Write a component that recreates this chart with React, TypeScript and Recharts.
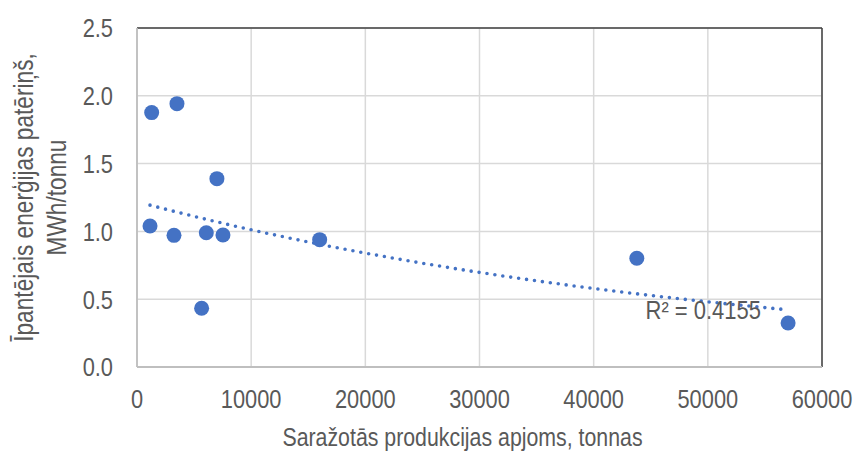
import React from 'react';
import {
  ScatterChart,
  Scatter,
  XAxis,
  YAxis,
  CartesianGrid,
  ReferenceLine,
  ReferenceDot,
} from 'recharts';

// Saražotās produkcijas apjoms (tonnas) un īpatnējais enerģijas patēriņš (MWh/tonnu)
const production = [1285, 3500, 7000, 1140, 3240, 6070, 7530, 5660, 16000, 43780, 57030];
const consumption = [1.876, 1.942, 1.389, 1.04, 0.971, 0.99, 0.973, 0.433, 0.939, 0.802, 0.324];

const xTicks = [0, 10000, 20000, 30000, 40000, 50000, 60000];
const yTicks = [0, 0.5, 1.0, 1.5, 2.0, 2.5];

const xTitle = 'Saražotās produkcijas apjoms, tonnas';
const yTitle = ['Īpantējais enerģijas patēriņš,', 'MWh/tonnu'];
const r2Label = 'R² = 0.4155';

const BLUE = '#4472C4';
const TEXT = '#595959';
const FONT = '"Liberation Sans", Arial, sans-serif';
// narrow look: squeeze the glyphs horizontally
const SQUEEZE = 0.84;

const points = production.map((x, i) => ({ x, y: consumption[i] }));

// exponential trendline y = a * e^(b x), least squares on ln(y)
function expFit(xs: number[], ys: number[]) {
  const n = xs.length;
  const ly = ys.map((v) => Math.log(v));
  const mx = xs.reduce((s, v) => s + v, 0) / n;
  const my = ly.reduce((s, v) => s + v, 0) / n;
  let sxy = 0;
  let sxx = 0;
  xs.forEach((x, i) => {
    sxy += (x - mx) * (ly[i] - my);
    sxx += (x - mx) * (x - mx);
  });
  const b = sxy / sxx;
  const a = Math.exp(my - b * mx);
  return { a, b };
}

const fit = expFit(production, consumption);
const xMin = Math.min(...production);
const xMax = Math.max(...production);
const trend = Array.from({ length: 41 }, (_, i) => {
  const x = xMin + ((xMax - xMin) * i) / 40;
  return { x, y: fit.a * Math.exp(fit.b * x) };
});

const XTick = ({ x, y, payload }: any) => (
  <text
    transform={`translate(${x},${y}) scale(${SQUEEZE},1)`}
    textAnchor="middle"
    dy="0.71em"
    fill={TEXT}
    fontFamily={FONT}
    fontSize={26}
  >
    {payload.value}
  </text>
);

const YTick = ({ x, y, payload }: any) => (
  <text
    transform={`translate(${x},${y}) scale(${SQUEEZE},1)`}
    textAnchor="end"
    dy="0.36em"
    fill={TEXT}
    fontFamily={FONT}
    fontSize={26}
  >
    {Number(payload.value).toFixed(1)}
  </text>
);

const YTitle = ({ viewBox }: any) => {
  const cy = viewBox.y + viewBox.height / 2;
  return (
    <g fill={TEXT} fontFamily={FONT} fontSize={27}>
      <text transform={`translate(33,${cy}) rotate(-90) scale(${SQUEEZE},1)`} textAnchor="middle">
        {yTitle[0]}
      </text>
      <text transform={`translate(66,${cy}) rotate(-90) scale(${SQUEEZE},1)`} textAnchor="middle">
        {yTitle[1]}
      </text>
    </g>
  );
};

const XTitle = ({ viewBox }: any) => {
  const cx = viewBox.x + viewBox.width / 2 - 17;
  return (
    <text
      transform={`translate(${cx},446) scale(0.82,1)`}
      textAnchor="middle"
      fill={TEXT}
      fontFamily={FONT}
      fontSize={26}
    >
      {xTitle}
    </text>
  );
};

const R2Text = ({ viewBox }: any) => {
  const cx = viewBox.x + viewBox.width / 2;
  const cy = viewBox.y + viewBox.height / 2;
  return (
    <text
      transform={`translate(${cx},${cy}) scale(0.88,1)`}
      textAnchor="middle"
      dy="0.36em"
      fill={TEXT}
      fontFamily={FONT}
      fontSize={25}
    >
      {r2Label}
    </text>
  );
};

export default function App() {
  return (
    <div style={{ position: 'absolute', left: 0, top: 0, width: 856, height: 452, background: '#fff' }}>
      <ScatterChart width={856} height={452} margin={{ top: 28, right: 34, bottom: 0, left: 0 }}>
        <CartesianGrid stroke="#d9d9d9" strokeWidth={1.5} />
        <XAxis
          type="number"
          dataKey="x"
          domain={[0, 60000]}
          ticks={xTicks}
          height={85}
          tickLine={false}
          tickSize={0}
          tickMargin={23}
          axisLine={{ stroke: '#bfbfbf', strokeWidth: 1.8 }}
          tick={<XTick />}
          label={<XTitle />}
        />
        <YAxis
          type="number"
          dataKey="y"
          domain={[0, 2.5]}
          ticks={yTicks}
          width={137}
          tickLine={false}
          tickSize={0}
          tickMargin={24}
          axisLine={{ stroke: '#bfbfbf', strokeWidth: 1.8 }}
          tick={<YTick />}
          label={<YTitle />}
        />
        <ReferenceLine y={2.5} stroke="#404040" strokeWidth={1.5} />
        <ReferenceLine x={60000} stroke="#404040" strokeWidth={1.5} />
        <Scatter
          data={trend}
          isAnimationActive={false}
          line={{ stroke: BLUE, strokeWidth: 3.6, strokeDasharray: '0 8', strokeLinecap: 'round' }}
          lineType="joint"
          shape={() => <g />}
        />
        <Scatter
          data={points}
          fill={BLUE}
          isAnimationActive={false}
          shape={(p: any) => <circle cx={p.cx} cy={p.cy} r={7.5} fill={BLUE} />}
        />
        <ReferenceDot x={49600} y={0.42} r={0} fill="none" stroke="none" label={<R2Text />} />
      </ScatterChart>
    </div>
  );
}
